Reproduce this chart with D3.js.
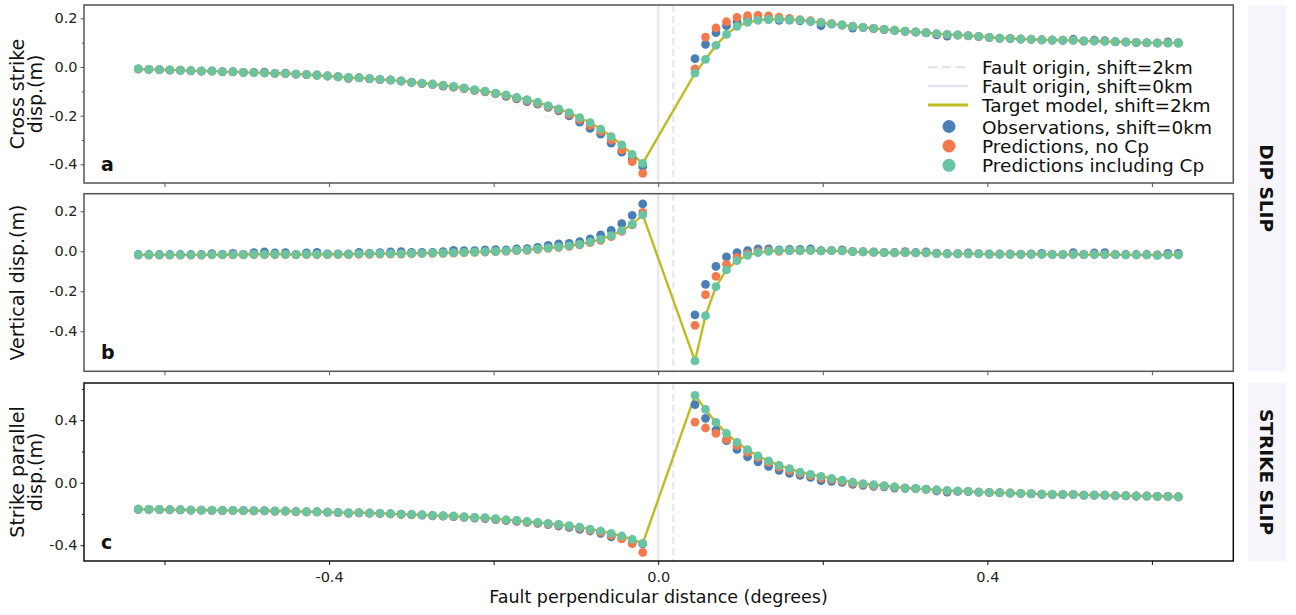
<!DOCTYPE html>
<html>
<head>
<meta charset="utf-8">
<script src="https://cdn.jsdelivr.net/npm/d3@7"></script>
<style>
  body { margin: 0; background: #fff; }
  svg { display: block; font-family: "DejaVu Sans", sans-serif; }
  .axis text { font-size: 14.5px; fill: #222; font-family: "DejaVu Sans", sans-serif; }
</style>
</head>
<body>
<div id="chart"></div>
<script>

// fault perpendicular distance of each station (degrees)
const dist = [
  -0.6318, -0.6190, -0.6062, -0.5935, -0.5807, -0.5679, -0.5551, -0.5424, -0.5296, -0.5168,
  -0.5041, -0.4913, -0.4785, -0.4658, -0.4530, -0.4402, -0.4274, -0.4147, -0.4019, -0.3891,
  -0.3764, -0.3636, -0.3508, -0.3381, -0.3253, -0.3125, -0.2997, -0.2870, -0.2742, -0.2614,
  -0.2487, -0.2359, -0.2231, -0.2104, -0.1976, -0.1848, -0.1720, -0.1593, -0.1465, -0.1337,
  -0.1210, -0.1082, -0.0954, -0.0827, -0.0699, -0.0571, -0.0443, -0.0316, -0.0188,
  0.0447, 0.0575, 0.0702, 0.0830, 0.0958, 0.1086, 0.1213, 0.1341, 0.1469, 0.1596,
  0.1724, 0.1852, 0.1979, 0.2107, 0.2235, 0.2363, 0.2490, 0.2618, 0.2746, 0.2873,
  0.3001, 0.3129, 0.3256, 0.3384, 0.3512, 0.3640, 0.3767, 0.3895, 0.4023, 0.4150,
  0.4278, 0.4406, 0.4533, 0.4661, 0.4789, 0.4917, 0.5044, 0.5172, 0.5300, 0.5427,
  0.5555, 0.5683, 0.5810, 0.5938, 0.6066, 0.6194, 0.6321
];

// --- panel a: cross strike (m)
const obsCross = [
  -0.008, -0.010, -0.011, -0.013, -0.013, -0.016, -0.017, -0.016, -0.020, -0.019,
  -0.022, -0.022, -0.021, -0.026, -0.025, -0.029, -0.031, -0.033, -0.037, -0.041,
  -0.047, -0.044, -0.049, -0.052, -0.053, -0.058, -0.063, -0.068, -0.072, -0.079,
  -0.083, -0.089, -0.096, -0.102, -0.110, -0.121, -0.131, -0.142, -0.153, -0.166,
  -0.180, -0.201, -0.227, -0.252, -0.276, -0.313, -0.350, -0.378, -0.409,
  0.034, 0.093, 0.141, 0.170, 0.186, 0.197, 0.198, 0.196, 0.192, 0.193,
  0.190, 0.187, 0.170, 0.176, 0.172, 0.160, 0.162, 0.158, 0.154, 0.150,
  0.146, 0.143, 0.140, 0.132, 0.127, 0.131, 0.128, 0.125, 0.121, 0.118,
  0.117, 0.114, 0.113, 0.111, 0.110, 0.109, 0.114, 0.106, 0.110, 0.108,
  0.103, 0.102, 0.100, 0.099, 0.098, 0.103, 0.100
];
const noCpCross = [
  -0.009, -0.010, -0.012, -0.012, -0.014, -0.015, -0.017, -0.017, -0.019, -0.020,
  -0.022, -0.023, -0.024, -0.026, -0.027, -0.029, -0.031, -0.034, -0.037, -0.040,
  -0.045, -0.045, -0.048, -0.052, -0.054, -0.057, -0.062, -0.067, -0.071, -0.077,
  -0.082, -0.088, -0.095, -0.101, -0.109, -0.118, -0.128, -0.138, -0.150, -0.163,
  -0.176, -0.195, -0.216, -0.240, -0.265, -0.300, -0.341, -0.389, -0.437,
  -0.008, 0.123, 0.161, 0.186, 0.204, 0.211, 0.212, 0.210, 0.205, 0.200,
  0.195, 0.190, 0.183, 0.178, 0.173, 0.168, 0.163, 0.159, 0.155, 0.151,
  0.147, 0.144, 0.141, 0.136, 0.133, 0.132, 0.129, 0.126, 0.122, 0.119,
  0.118, 0.115, 0.114, 0.112, 0.111, 0.110, 0.110, 0.107, 0.107, 0.106,
  0.104, 0.103, 0.101, 0.100, 0.099, 0.099, 0.098
];
const cpCross = [
  -0.008, -0.010, -0.011, -0.012, -0.014, -0.015, -0.016, -0.017, -0.019, -0.020,
  -0.022, -0.023, -0.025, -0.026, -0.027, -0.029, -0.031, -0.034, -0.037, -0.040,
  -0.043, -0.045, -0.048, -0.051, -0.054, -0.057, -0.062, -0.066, -0.070, -0.075,
  -0.080, -0.086, -0.093, -0.099, -0.107, -0.115, -0.125, -0.134, -0.145, -0.159,
  -0.172, -0.188, -0.208, -0.229, -0.255, -0.286, -0.320, -0.359, -0.396,
  -0.025, 0.031, 0.089, 0.134, 0.167, 0.183, 0.192, 0.196, 0.197, 0.195,
  0.193, 0.188, 0.182, 0.177, 0.173, 0.167, 0.163, 0.159, 0.155, 0.151,
  0.147, 0.144, 0.141, 0.137, 0.134, 0.132, 0.129, 0.126, 0.122, 0.119,
  0.118, 0.115, 0.114, 0.112, 0.111, 0.110, 0.109, 0.107, 0.106, 0.105,
  0.104, 0.103, 0.101, 0.100, 0.099, 0.098, 0.097
];

// --- panel b: vertical (m)
const obsVert = [
  -0.016, -0.016, -0.016, -0.016, -0.016, -0.016, -0.016, -0.012, -0.015, -0.010,
  -0.015, -0.007, -0.003, -0.008, -0.007, -0.015, -0.008, -0.005, -0.013, -0.013,
  -0.013, -0.005, -0.010, -0.007, -0.003, -0.002, -0.005, -0.005, -0.005, -0.002,
  0.005, 0.003, 0.003, 0.007, 0.008, 0.007, 0.012, 0.013, 0.020, 0.030,
  0.037, 0.040, 0.048, 0.062, 0.082, 0.105, 0.138, 0.180, 0.237,
  -0.318, -0.165, -0.075, -0.028, -0.007, 0.003, 0.012, 0.012, 0.007, 0.010,
  0.010, 0.012, 0.003, 0.004, 0.007, 0.000, -0.002, -0.003, -0.005, -0.006,
  -0.002, -0.006, -0.003, -0.009, -0.011, -0.012, -0.008, -0.012, -0.013, -0.013,
  -0.013, -0.014, -0.013, -0.010, -0.015, -0.015, -0.007, -0.015, -0.008, -0.007,
  -0.015, -0.016, -0.016, -0.016, -0.018, -0.010, -0.010
];
const noCpVert = [
  -0.019, -0.019, -0.019, -0.019, -0.019, -0.019, -0.019, -0.018, -0.018, -0.018,
  -0.018, -0.017, -0.017, -0.017, -0.017, -0.018, -0.017, -0.017, -0.017, -0.017,
  -0.017, -0.015, -0.015, -0.014, -0.014, -0.014, -0.012, -0.012, -0.010, -0.010,
  -0.009, -0.007, -0.005, -0.004, -0.002, 0.000, 0.003, 0.005, 0.010, 0.015,
  0.020, 0.025, 0.032, 0.043, 0.055, 0.073, 0.100, 0.132, 0.195,
  -0.370, -0.217, -0.125, -0.065, -0.030, -0.013, -0.002, 0.003, 0.000, 0.003,
  0.002, 0.005, 0.002, 0.003, 0.002, -0.002, -0.003, -0.005, -0.007, -0.008,
  -0.007, -0.008, -0.008, -0.011, -0.013, -0.013, -0.013, -0.013, -0.015, -0.015,
  -0.015, -0.015, -0.015, -0.015, -0.016, -0.017, -0.015, -0.017, -0.016, -0.016,
  -0.017, -0.018, -0.018, -0.018, -0.019, -0.018, -0.018
];
const cpVert = [
  -0.018, -0.018, -0.018, -0.018, -0.018, -0.018, -0.018, -0.017, -0.017, -0.017,
  -0.017, -0.015, -0.015, -0.015, -0.015, -0.017, -0.015, -0.015, -0.015, -0.015,
  -0.015, -0.013, -0.013, -0.012, -0.012, -0.012, -0.010, -0.010, -0.008, -0.008,
  -0.007, -0.005, -0.003, -0.002, 0.000, 0.002, 0.005, 0.007, 0.012, 0.017,
  0.022, 0.027, 0.035, 0.047, 0.060, 0.078, 0.103, 0.135, 0.182,
  -0.548, -0.322, -0.177, -0.093, -0.047, -0.020, -0.007, 0.000, 0.003, 0.003,
  0.003, 0.005, 0.002, 0.003, 0.002, -0.002, -0.003, -0.005, -0.007, -0.008,
  -0.007, -0.008, -0.008, -0.012, -0.013, -0.013, -0.013, -0.013, -0.015, -0.015,
  -0.015, -0.015, -0.015, -0.015, -0.017, -0.017, -0.015, -0.017, -0.017, -0.017,
  -0.017, -0.018, -0.018, -0.018, -0.020, -0.018, -0.018
];

// --- panel c: strike parallel (m)
const obsStrike = [
  -0.170, -0.171, -0.172, -0.173, -0.174, -0.175, -0.176, -0.177, -0.178, -0.178,
  -0.179, -0.180, -0.180, -0.182, -0.182, -0.185, -0.187, -0.187, -0.189, -0.191,
  -0.196, -0.193, -0.195, -0.198, -0.200, -0.203, -0.205, -0.208, -0.212, -0.214,
  -0.217, -0.222, -0.226, -0.230, -0.236, -0.243, -0.248, -0.254, -0.260, -0.268,
  -0.277, -0.286, -0.299, -0.309, -0.324, -0.346, -0.355, -0.378, -0.392,
  0.499, 0.412, 0.337, 0.269, 0.213, 0.166, 0.134, 0.105, 0.079, 0.060,
  0.047, 0.034, 0.013, 0.009, 0.002, -0.011, -0.017, -0.023, -0.026, -0.034,
  -0.036, -0.038, -0.043, -0.053, -0.060, -0.056, -0.057, -0.061, -0.063, -0.065,
  -0.067, -0.069, -0.071, -0.074, -0.076, -0.076, -0.076, -0.080, -0.080, -0.080,
  -0.084, -0.084, -0.086, -0.086, -0.088, -0.088, -0.091
];
const noCpStrike = [
  -0.170, -0.172, -0.172, -0.174, -0.174, -0.176, -0.176, -0.178, -0.178, -0.178,
  -0.180, -0.180, -0.180, -0.182, -0.182, -0.185, -0.187, -0.187, -0.189, -0.191,
  -0.193, -0.193, -0.195, -0.197, -0.199, -0.202, -0.204, -0.206, -0.210, -0.212,
  -0.215, -0.220, -0.224, -0.227, -0.233, -0.240, -0.245, -0.252, -0.258, -0.265,
  -0.270, -0.279, -0.290, -0.303, -0.316, -0.337, -0.360, -0.390, -0.446,
  0.388, 0.350, 0.316, 0.277, 0.237, 0.194, 0.160, 0.128, 0.100, 0.078,
  0.060, 0.045, 0.030, 0.020, 0.010, -0.003, -0.011, -0.018, -0.022, -0.030,
  -0.035, -0.037, -0.042, -0.048, -0.053, -0.054, -0.056, -0.060, -0.062, -0.064,
  -0.066, -0.068, -0.070, -0.073, -0.075, -0.075, -0.075, -0.079, -0.079, -0.079,
  -0.083, -0.083, -0.085, -0.085, -0.087, -0.087, -0.090
];
const cpStrike = [
  -0.169, -0.171, -0.171, -0.173, -0.173, -0.175, -0.175, -0.177, -0.177, -0.177,
  -0.179, -0.179, -0.179, -0.181, -0.181, -0.184, -0.186, -0.186, -0.188, -0.190,
  -0.192, -0.192, -0.194, -0.196, -0.198, -0.201, -0.203, -0.205, -0.209, -0.211,
  -0.213, -0.218, -0.222, -0.224, -0.230, -0.237, -0.241, -0.248, -0.254, -0.260,
  -0.267, -0.275, -0.284, -0.297, -0.309, -0.324, -0.341, -0.363, -0.388,
  0.559, 0.469, 0.386, 0.316, 0.258, 0.211, 0.171, 0.139, 0.111, 0.090,
  0.068, 0.053, 0.041, 0.028, 0.017, 0.004, -0.006, -0.013, -0.019, -0.026,
  -0.034, -0.036, -0.041, -0.045, -0.049, -0.053, -0.055, -0.060, -0.062, -0.064,
  -0.066, -0.068, -0.070, -0.073, -0.075, -0.075, -0.075, -0.079, -0.079, -0.079,
  -0.083, -0.083, -0.085, -0.085, -0.087, -0.087, -0.090
];

// fault traces (degrees)
const faultShift0 = 0.0;
const faultShift2 = 0.0184;

// ticks
const xTicks = [-0.6, -0.4, -0.2, 0.0, 0.2, 0.4, 0.6];
const xTickLabels = [-0.4, 0.0, 0.4];
const yTicksCross = [-0.4, -0.2, 0.0, 0.2];
const yMinorCross = [-0.3, -0.1, 0.1];
const yTicksVert = [-0.4, -0.2, 0.0, 0.2];
const yTicksStrike = [-0.4, 0.0, 0.4];
const yMinorStrike = [-0.2, 0.2, 0.6];

const legendLabels = [
  'Fault origin, shift=2km',
  'Fault origin, shift=0km',
  'Target model, shift=2km',
  'Observations, shift=0km',
  'Predictions, no Cp',
  'Predictions including Cp'
];

const colors = {
  obs: '#4a7fb6',
  noCp: '#f47a4d',
  cp: '#68c4a3',
  target: '#bcbd22',
  fault: '#e3e3f2'
};


class SlipPanel {

  constructor(_config, _data) {
    this.config = {
      svg: _config.svg,
      left: 84,
      width: 1149.3,
      top: _config.top,
      height: _config.height,
      yDomain: _config.yDomain,
      yTicks: _config.yTicks,
      yMinor: _config.yMinor || [],
      title: _config.title,
      letter: _config.letter,
      spine: _config.spine || '#555',
      xLabels: _config.xLabels || false,
      pointRadius: 4.4
    }
    this.data = _data;
    this.initVis();
  }

  initVis() {
    let vis = this;

    vis.xScale = d3.scaleLinear()
        .domain([-0.6978, 0.6989])
        .range([0, vis.config.width]);

    vis.yScale = d3.scaleLinear()
        .domain(vis.config.yDomain)
        .range([vis.config.height, 0]);

    vis.chart = vis.config.svg.append('g')
        .attr('transform', `translate(${vis.config.left},${vis.config.top})`);

    // y axis title, one or two lines rotated
    const cy = vis.config.top + vis.config.height / 2;
    vis.config.title.forEach((t, i) => {
      vis.config.svg.append('text')
          .attr('transform', `translate(${24 + i * 17.5},${cy}) rotate(-90)`)
          .attr('text-anchor', 'middle')
          .style('font-size', '19px')
          .attr('fill', '#111')
          .text(t);
    });

    vis.renderVis();
  }

  renderVis() {
    let vis = this;
    const h = vis.config.height;

    // fault origin lines
    vis.chart.append('line')
        .attr('x1', vis.xScale(faultShift0)).attr('x2', vis.xScale(faultShift0))
        .attr('y1', 0).attr('y2', h)
        .attr('stroke', colors.fault)
        .attr('stroke-width', 2);

    vis.chart.append('line')
        .attr('x1', vis.xScale(faultShift2)).attr('x2', vis.xScale(faultShift2))
        .attr('y1', 0).attr('y2', h)
        .attr('stroke', colors.fault)
        .attr('stroke-width', 2)
        .attr('stroke-dasharray', '7,4');

    const rows = dist.map((d, i) => ({
      x: d,
      obs: vis.data.obs[i],
      noCp: vis.data.noCp[i],
      cp: vis.data.cp[i]
    }));

    // target model line
    const line = d3.line()
        .x(d => vis.xScale(d.x))
        .y(d => vis.yScale(d.cp));

    vis.chart.append('path')
        .datum(rows)
        .attr('d', line)
        .attr('fill', 'none')
        .attr('stroke', colors.target)
        .attr('stroke-width', 2.4);

    ['obs', 'noCp', 'cp'].forEach(key => {
      vis.chart.append('g')
        .selectAll('circle')
        .data(rows)
        .join('circle')
          .attr('cx', d => vis.xScale(d.x))
          .attr('cy', d => vis.yScale(d[key]))
          .attr('r', vis.config.pointRadius)
          .attr('fill', colors[key]);
    });

    // axes
    vis.yAxis = d3.axisLeft(vis.yScale)
        .tickValues(vis.config.yTicks)
        .tickSize(3.5)
        .tickPadding(3)
        .tickFormat(d => d.toFixed(1));

    vis.yMinorAxis = d3.axisLeft(vis.yScale)
        .tickValues(vis.config.yMinor)
        .tickSize(2)
        .tickFormat('');

    vis.xAxis = d3.axisBottom(vis.xScale)
        .tickValues(xTicks)
        .tickSize(4)
        .tickPadding(6.5)
        .tickFormat(d => (vis.config.xLabels && xTickLabels.some(v => Math.abs(v - d) < 1e-9)) ? d.toFixed(1) : '');

    vis.chart.append('g').attr('class', 'axis').call(vis.yAxis)
        .call(g => g.select('.domain').remove())
        .call(g => g.selectAll('line').attr('stroke', vis.config.spine));
    vis.chart.append('g').attr('class', 'axis').call(vis.yMinorAxis)
        .call(g => g.select('.domain').remove())
        .call(g => g.selectAll('line').attr('stroke', vis.config.spine));
    vis.chart.append('g').attr('class', 'axis')
        .attr('transform', `translate(0,${h})`)
        .call(vis.xAxis)
        .call(g => g.select('.domain').remove())
        .call(g => g.selectAll('line').attr('stroke', vis.config.spine));

    // frame
    vis.chart.append('rect')
        .attr('width', vis.config.width)
        .attr('height', h)
        .attr('fill', 'none')
        .attr('stroke', vis.config.spine)
        .attr('stroke-width', 1.5);

    // panel letter
    vis.chart.append('text')
        .attr('x', 17)
        .attr('y', h - 12)
        .style('font-size', '19px')
        .style('font-weight', 'bold')
        .attr('fill', '#111')
        .text(vis.config.letter);
  }
}


const svg = d3.select('#chart').append('svg')
    .attr('width', 1296)
    .attr('height', 615);

svg.append('rect').attr('width', 1296).attr('height', 615).attr('fill', '#fff');

new SlipPanel({
  svg: svg, top: 5, height: 178,
  yDomain: [-0.4768, 0.2548],
  yTicks: yTicksCross, yMinor: yMinorCross,
  title: ['Cross strike', 'disp.(m)'], letter: 'a'
}, {obs: obsCross, noCp: noCpCross, cp: cpCross});

new SlipPanel({
  svg: svg, top: 193.7, height: 177.6,
  yDomain: [-0.600, 0.288],
  yTicks: yTicksVert,
  title: ['Vertical disp.(m)'], letter: 'b'
}, {obs: obsVert, noCp: noCpVert, cp: cpVert});

new SlipPanel({
  svg: svg, top: 383, height: 178,
  yDomain: [-0.501, 0.638],
  yTicks: yTicksStrike, yMinor: yMinorStrike,
  title: ['Strike parallel', 'disp.(m)'], letter: 'c',
  spine: '#111', xLabels: true
}, {obs: obsStrike, noCp: noCpStrike, cp: cpStrike});

// x axis title
svg.append('text')
    .attr('x', 658.5)
    .attr('y', 603)
    .attr('text-anchor', 'middle')
    .style('font-size', '17.5px')
    .attr('fill', '#111')
    .text('Fault perpendicular distance (degrees)');

// strip labels on the right
const strips = [
  {label: 'DIP SLIP', y0: 5, y1: 371.3},
  {label: 'STRIKE SLIP', y0: 383, y1: 561}
];
strips.forEach(s => {
  svg.append('rect')
      .attr('x', 1248).attr('y', s.y0)
      .attr('width', 38).attr('height', s.y1 - s.y0)
      .attr('fill', '#f5f5fb');
  svg.append('text')
      .attr('transform', `translate(1266,${(s.y0 + s.y1) / 2}) rotate(90)`)
      .attr('text-anchor', 'middle')
      .attr('dy', '0.35em')
      .style('font-size', '18.5px')
      .style('font-weight', 'bold')
      .attr('fill', '#111')
      .text(s.label);
});

// legend (inside panel a)
const legend = svg.append('g');
const legendY = [67.3, 86, 105, 126.5, 146, 165.3];
const handles = [
  {type: 'line', color: colors.fault, dash: '9,5', width: 2.4},
  {type: 'line', color: colors.fault, dash: null, width: 2.4},
  {type: 'line', color: colors.target, dash: null, width: 3},
  {type: 'dot', color: colors.obs},
  {type: 'dot', color: colors.noCp},
  {type: 'dot', color: colors.cp}
];
legendLabels.forEach((label, i) => {
  const hd = handles[i];
  const y = legendY[i];
  if (hd.type === 'line') {
    legend.append('line')
        .attr('x1', 928).attr('x2', 968)
        .attr('y1', y).attr('y2', y)
        .attr('stroke', hd.color)
        .attr('stroke-width', hd.width)
        .attr('stroke-dasharray', hd.dash);
  } else {
    legend.append('circle')
        .attr('cx', 949).attr('cy', y)
        .attr('r', 6.5)
        .attr('fill', hd.color);
  }
  legend.append('text')
      .attr('x', 982)
      .attr('y', y + 7)
      .style('font-size', '18.5px')
      .attr('fill', '#111')
      .text(label);
});

</script>
</body>
</html>
